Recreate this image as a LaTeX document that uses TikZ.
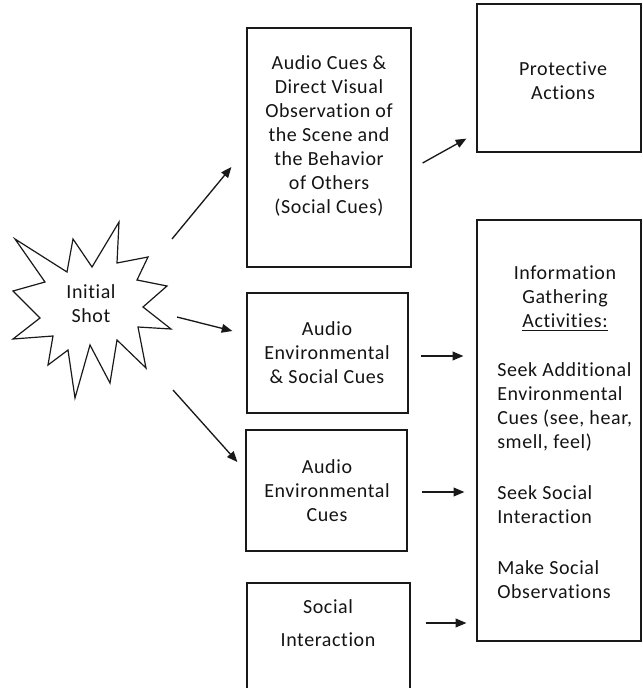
\documentclass[tikz,border=0pt]{standalone}
\usepackage{fontspec}
\setmainfont{Carlito}[LetterSpace=3, Ligatures=NoCommon]
\usetikzlibrary{arrows.meta,calc}
\tikzset{
  txt/.style={font=\fontsize{15pt}{18pt}\selectfont, text=black!92, inner sep=0pt},
  ctxt/.style={txt, align=center},
  box/.style={draw=black!90, line width=0.9pt, inner sep=0pt, rectangle},
  arr/.style={draw=black!90, line width=1pt, -{Triangle[length=8pt,width=6.5pt]}},
}
\begin{document}
\begin{tikzpicture}[x=0.75pt,y=-0.75pt]
\useasboundingbox (0,0) rectangle (642,688);
\clip (0,0) rectangle (642,688);

% starburst
\draw[black!90, line width=0.9pt, line join=miter]
  (15,239) -- (67,272) -- (73,239) -- (92,267) -- (119,222) -- (117,263)
  -- (148,257) -- (137,280) -- (167,286) -- (143,307) -- (171,329) -- (138,327)
  -- (146,368) -- (117,340) -- (110,383) -- (90,345) -- (75,398) -- (68,350)
  -- (48,365) -- (53,336) -- (13,339) -- (40,318) -- (13,291) -- (45,282) -- cycle;
\node[ctxt] (star) at (91,304) {Initial\\Shot};

% boxes
\node[box, minimum width=164*0.75pt, minimum height=239*0.75pt] (box1) at (329,147.5) {};
\node[box, minimum width=164*0.75pt, minimum height=148*0.75pt] (prot) at (559,78) {};
\node[box, minimum width=164*0.75pt, minimum height=421*0.75pt] (info) at (559,430.5) {};
\node[box, minimum width=161*0.75pt, minimum height=120*0.75pt] (aes) at (327.5,353) {};
\node[box, minimum width=161*0.75pt, minimum height=121*0.75pt] (ae) at (326.5,490.5) {};
\node[box, minimum width=163*0.75pt, minimum height=140*0.75pt] (si) at (328.5,653) {};

% box texts
\node[ctxt] (box1t) at (329,136) {Audio Cues \&\\Direct Visual\\Observation of\\the Scene and\\the Behavior\\of Others\\(Social Cues)};
\node[ctxt] (prott) at (563,81) {Protective\\Actions};
\node[ctxt] (aest) at (327,353) {Audio\\Environmental\\\& Social Cues};
\node[ctxt] (aet) at (327,491) {Audio\\Environmental\\Cues};
\node[ctxt] (sit) at (328,623.5) {Social\\[6.75pt]Interaction};
\node[ctxt] (infoh) at (565,298.5) {Information\\Gathering\\\underline{Activities:}};
\node[txt, align=left, anchor=base west] (infob) at (497,598)
  {Seek Additional\\Environmental\\Cues (see, hear,\\smell, feel)\\[20pt]
   Seek Social\\Interaction\\[20pt]
   Make Social\\Observations};

% connectors
\draw[arr] ($(star.center)+(81,-65)$) -- ($(box1.west)+(-15,19.5)$);
\draw[arr] ($(star.center)+(86,13)$) -- ($(aes.west)+(-14,-22)$);
\draw[arr] ($(star.center)+(82,86)$) -- ($(ae.west)+(-8,-28.5)$);
\draw[arr] ($(box1.east)+(11,15.5)$) -- ($(prot.south west)+(-10,-14)$);
\draw[arr] ($(aes.east)+(12,3)$) -- ($(info.west |- aes.east)+(-13,3)$);
\draw[arr] ($(ae.east)+(14,1.5)$) -- ($(info.west |- ae.east)+(-12,1.5)$);
\draw[arr] ($(si.east)+(15,-30)$) -- ($(info.west |- si.east)+(-10,-30)$);
\end{tikzpicture}
\end{document}
